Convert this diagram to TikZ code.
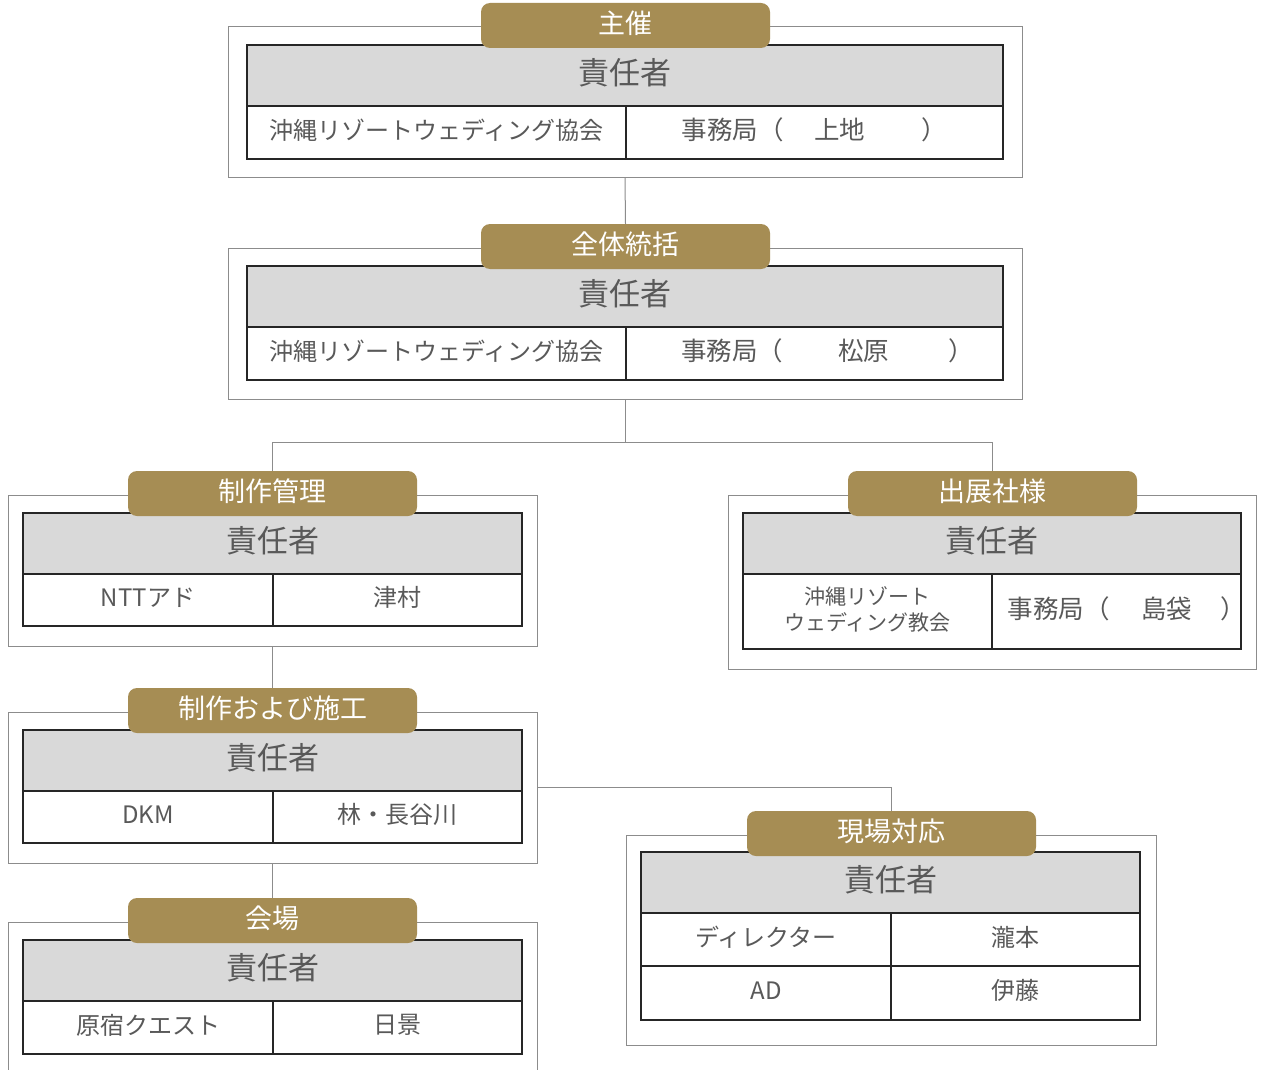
\documentclass[tikz,border=0pt]{standalone}
\usepackage{fontspec}
\setmainfont{Noto Sans CJK JP}
\definecolor{gold}{HTML}{A68D54}
\definecolor{txt}{HTML}{595959}
\definecolor{frame}{HTML}{8C8C8C}
\definecolor{rowgray}{HTML}{D9D9D9}
\definecolor{rulec}{HTML}{262626}
\newcommand{\upt}[1]{\raisebox{2.5pt}[\height][\depth]{#1}}
\tikzset{
  base/.style={rectangle, anchor=north west, inner sep=0pt, outer sep=0pt},
  outerbox/.style={base, draw=frame, line width=1pt, fill=white},
  headrow/.style={base, draw=rulec, line width=1.3pt, fill=rowgray, text=txt,
    font=\fontsize{31pt}{36pt}\selectfont},
  cell/.style={base, draw=rulec, line width=1.3pt, fill=white, text=txt,
    font=\fontsize{24pt}{28pt}\selectfont, align=center},
  officecell/.style={cell, font=\fontsize{25.5pt}{30pt}\selectfont},
  smallcell/.style={cell, font=\fontsize{21pt}{26pt}\selectfont},
  goldtab/.style={base, fill=gold, rounded corners=9pt, text=white,
    minimum width=289pt, minimum height=45pt,
    font=\fontsize{27pt}{32pt}\selectfont},
  conn/.style={draw=frame, line width=1pt}
}
\begin{document}
\begin{tikzpicture}[x=1pt, y=-1pt]
\useasboundingbox (0,0) rectangle (1264,1070);
\fill[white] (0,0) rectangle (1264,1070);
\clip (0,0) rectangle (1264,1070);

\coordinate (j1) at (625,442);

% ---------- Box 1: 主催 ----------
\node[outerbox, minimum width=794pt, minimum height=151pt] (o1) at (228,27) {};
\node[headrow, minimum width=756pt, minimum height=61pt] (h1) at (247,45) {\upt{責任者}};
\node[cell, minimum width=379pt, minimum height=53pt] (c1a) at (247,106) {\upt{沖縄リゾートウェディング協会}};
\node[officecell, minimum width=377pt, minimum height=53pt] (c1b) at (626,106) {\upt{事務局（\hspace{30.5pt}上地\hspace{56.5pt}）}};
\node[goldtab] (g1) at (481,3) {\upt{主催}};

% ---------- Box 2: 全体統括 ----------
\node[outerbox, minimum width=794pt, minimum height=151pt] (o2) at (228,248) {};
\node[headrow, minimum width=756pt, minimum height=61pt] (h2) at (247,266) {\upt{責任者}};
\node[cell, minimum width=379pt, minimum height=53pt] (c2a) at (247,327) {\upt{沖縄リゾートウェディング協会}};
\node[officecell, minimum width=377pt, minimum height=53pt] (c2b) at (626,327) {\upt{事務局（\hspace{55.5pt}松原\hspace{59.5pt}）\hspace{-26.5pt}}};
\node[goldtab] (g2) at (481,224) {\upt{全体統括}};

% ---------- Box 3: 制作管理 ----------
\node[outerbox, minimum width=529pt, minimum height=151pt] (o3) at (8,495) {};
\node[headrow, minimum width=499pt, minimum height=61pt] (h3) at (23,513) {\upt{責任者}};
\node[cell, minimum width=250pt, minimum height=52pt] (c3a) at (23,574) {\upt{NTTアド}};
\node[cell, minimum width=249pt, minimum height=52pt] (c3b) at (273,574) {\upt{津村}};
\node[goldtab] (g3) at (128,471) {\upt{制作管理}};

% ---------- Box 4: 出展社様 ----------
\node[outerbox, minimum width=528pt, minimum height=174pt] (o4) at (728,495) {};
\node[headrow, minimum width=498pt, minimum height=61pt] (h4) at (743,513) {\upt{責任者}};
\node[smallcell, minimum width=249pt, minimum height=75pt] (c4a) at (743,574) {\upt{沖縄リゾート}\\\upt{ウェディング教会}};
\node[officecell, minimum width=249pt, minimum height=75pt] (c4b) at (992,574) {\upt{事務局（\hspace{32pt}島袋\hspace{27.5pt}）\hspace{-20pt}}};
\node[goldtab] (g4) at (848,471) {\upt{出展社様}};

% ---------- Box 5: 制作および施工 ----------
\node[outerbox, minimum width=529pt, minimum height=151pt] (o5) at (8,712) {};
\node[headrow, minimum width=499pt, minimum height=61pt] (h5) at (23,730) {\upt{責任者}};
\node[cell, minimum width=250pt, minimum height=52pt] (c5a) at (23,791) {\upt{DKM}};
\node[cell, minimum width=249pt, minimum height=52pt] (c5b) at (273,791) {\upt{林・長谷川}};
\node[goldtab] (g5) at (128,688) {\upt{制作および施工}};

% ---------- Box 6: 会場 ----------
\node[outerbox, minimum width=529pt, minimum height=200pt] (o6) at (8,922) {};
\node[headrow, minimum width=499pt, minimum height=61pt] (h6) at (23,940) {\upt{責任者}};
\node[cell, minimum width=250pt, minimum height=53pt] (c6a) at (23,1001) {\upt{原宿クエスト}};
\node[cell, minimum width=249pt, minimum height=53pt] (c6b) at (273,1001) {\upt{日景}};
\node[goldtab] (g6) at (128,898) {\upt{会場}};

% ---------- Box 7: 現場対応 ----------
\node[outerbox, minimum width=530pt, minimum height=210pt] (o7) at (626,835) {};
\node[headrow, minimum width=499pt, minimum height=61pt] (h7) at (641,852) {\upt{責任者}};
\node[cell, minimum width=250pt, minimum height=53pt] (c7a) at (641,913) {\upt{ディレクター}};
\node[cell, minimum width=249pt, minimum height=53pt] (c7b) at (891,913) {\upt{瀧本}};
\node[cell, minimum width=250pt, minimum height=54pt] (c7c) at (641,966) {\upt{AD}};
\node[cell, minimum width=249pt, minimum height=54pt] (c7d) at (891,966) {\upt{伊藤}};
\node[goldtab] (g7) at (747,811) {\upt{現場対応}};

% ---------- connectors ----------
\draw[conn] (o1.south) -- (g2.north);
\draw[conn] (o2.south) -- (j1);
\draw[conn] (j1) -| (g3.north);
\draw[conn] (j1) -| (g4.north);
\draw[conn] (o3.south) -- (g5.north);
\draw[conn] (o5.south) -- (g6.north);
\draw[conn] (o5.east) -| (g7.north);
\end{tikzpicture}
\end{document}
